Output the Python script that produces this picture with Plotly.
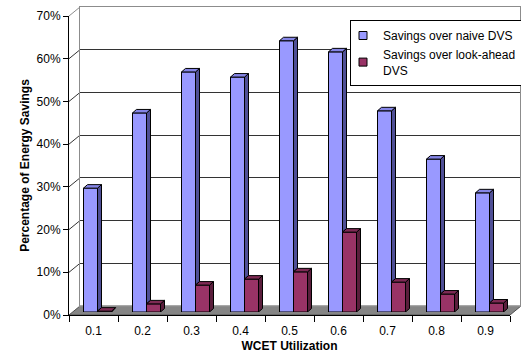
import plotly.graph_objects as go

# WCET utilization categories and energy savings (%) for each comparison
utilization = ["0.1", "0.2", "0.3", "0.4", "0.5", "0.6", "0.7", "0.8", "0.9"]
savings_naive = [29.0, 46.6, 56.2, 55.0, 63.5, 60.9, 47.1, 35.8, 27.9]
savings_lookahead = [0.2, 1.9, 6.3, 7.7, 9.4, 18.7, 7.0, 4.2, 2.1]
series_names = ["Savings over naive DVS", "Savings over look-ahead<br>DVS"]
y_ticks = [0, 10, 20, 30, 40, 50, 60, 70]

W, H = 521, 354
FONT = "Liberation Sans, Arial, sans-serif"

# page-pixel boxes of the three overlapping layers: back wall, front axes, bar plane
FRONT = dict(x0=69, x1=510, ybot=315, ytop=16)
BACK = dict(x0=80, x1=520, ybot=306, ytop=7)
BARS = dict(x0=73, x1=514, ybot=312, ytop=13)
LABEL_ROW_Y = 322   # page y of the free axis that carries the category labels


def xdom(b):
    return [b["x0"] / W, b["x1"] / W]


def ydom(b):
    return [1 - b["ybot"] / H, 1 - b["ytop"] / H]


n = len(utilization)
xpos = list(range(1, n + 1))
px_per_unit = (BARS["x1"] - BARS["x0"]) / n
px_per_pct = (BARS["ybot"] - BARS["ytop"]) / 70.0
bar_w = 14 / px_per_unit          # width of one bar in category units
depth_x = 4 / px_per_unit         # bar depth (right shift)
depth_y = 3.5 / px_per_pct        # bar depth (upward shift)

BLUE_FRONT, BLUE_SIDE, BLUE_TOP = "#9999FF", "#4F4F96", "#8585E6"
RED_FRONT, RED_SIDE, RED_TOP = "#993366", "#5A1E3C", "#7E2A54"


def faces(lefts, values, clip=None):
    """Side and top faces of 3-D columns as None-separated polygons."""
    sx, sy, tx, ty = [], [], [], []
    for i, (l, v) in enumerate(zip(lefts, values)):
        r = l + bar_w
        if clip is None:
            lo, lo_back = 0.0, depth_y
        else:
            lo = min(clip[i], v)
            lo_back = lo + depth_y
        sx += [r, r + depth_x, r + depth_x, r, r, None]
        sy += [lo, lo_back, v + depth_y, v, lo, None]
        tx += [l, r, r + depth_x, l + depth_x, l, None]
        ty += [v, v, v + depth_y, v + depth_y, v, None]
    return sx, sy, tx, ty


blue_left = [x - bar_w for x in xpos]
red_left = list(xpos)

fig = go.Figure()

# back wall subplot carries an empty trace so its gridlines are drawn
fig.add_trace(go.Scatter(x=[None], y=[None], xaxis="x", yaxis="y",
                         showlegend=False, hoverinfo="skip"))
# the front-axis subplot and the label axis need traces so their axes are drawn
fig.add_trace(go.Scatter(x=[utilization[0]], y=[None], xaxis="x2", yaxis="y2",
                         showlegend=False, hoverinfo="skip"))
fig.add_trace(go.Scatter(x=[utilization[0]], y=[None], xaxis="x4", yaxis="y2",
                         showlegend=False, hoverinfo="skip"))

# front faces of the columns
fig.add_trace(go.Bar(x=xpos, y=savings_naive, width=bar_w, offset=-bar_w,
                     marker=dict(color=BLUE_FRONT, line=dict(color="black", width=1)),
                     xaxis="x3", yaxis="y3", showlegend=False, hoverinfo="skip"))
fig.add_trace(go.Bar(x=xpos, y=savings_lookahead, width=bar_w, offset=0,
                     marker=dict(color=RED_FRONT, line=dict(color="black", width=1)),
                     xaxis="x3", yaxis="y3", showlegend=False, hoverinfo="skip"))

# depth faces; the blue side face is cut where the red column sits in front of it
bsx, bsy, btx, bty = faces(blue_left, savings_naive, clip=savings_lookahead)
rsx, rsy, rtx, rty = faces(red_left, savings_lookahead)
for fx, fy, col in [(bsx, bsy, BLUE_SIDE), (btx, bty, BLUE_TOP),
                    (rsx, rsy, RED_SIDE), (rtx, rty, RED_TOP)]:
    fig.add_trace(go.Scatter(x=fx, y=fy, mode="lines", fill="toself", fillcolor=col,
                             line=dict(color="black", width=1), xaxis="x3", yaxis="y3",
                             showlegend=False, hoverinfo="skip"))

# legend entries
for name, col, grp in [(series_names[0], BLUE_FRONT, "a"), (series_names[1], RED_FRONT, "b")]:
    fig.add_trace(go.Scatter(x=[None], y=[None], mode="markers", name=name, legendgroup=grp,
                             marker=dict(symbol="square", size=8, color=col,
                                         line=dict(color="black", width=1)),
                             xaxis="x3", yaxis="y3"))

# floor and side-wall gridlines in front-axis domain units
ddx = (BACK["x0"] - FRONT["x0"]) / (FRONT["x1"] - FRONT["x0"])
ddy = (FRONT["ybot"] - BACK["ybot"]) / (FRONT["ybot"] - FRONT["ytop"])
shapes = [dict(type="path", xref="x2 domain", yref="y2 domain", layer="below",
               path=f"M0,0 L1,0 L{1 + ddx},{ddy} L{ddx},{ddy} Z",
               fillcolor="#858585", line=dict(color="#505050", width=1))]
for v in y_ticks[1:]:
    f = v / 70.0
    shapes.append(dict(type="line", xref="x2 domain", yref="y2 domain", layer="below",
                       x0=0, y0=f, x1=ddx, y1=f + ddy,
                       line=dict(color="#333333" if v < 70 else "#8c8c8c", width=1)))

hidden = dict(showticklabels=False, ticks="", showgrid=False, zeroline=False, showline=False)
category_axis = dict(type="category", categoryarray=utilization, categoryorder="array",
                     range=[-0.5, n - 0.5], showgrid=False, zeroline=False)

fig.update_layout(
    width=W, height=H,
    margin=dict(l=0, r=0, t=0, b=0, autoexpand=False),
    paper_bgcolor="white", plot_bgcolor="rgba(0,0,0,0)",
    font=dict(family=FONT, size=12, color="black"),
    barmode="overlay",
    shapes=shapes,
    # back wall
    xaxis=dict(domain=xdom(BACK), range=[0, 1], anchor="y", showticklabels=False, ticks="",
               showgrid=False, zeroline=False, showline=True, mirror=True,
               linecolor="#8c8c8c", linewidth=1),
    yaxis=dict(domain=ydom(BACK), range=[0, 70], anchor="x", tickvals=y_ticks,
               showticklabels=False, ticks="", showgrid=True, gridcolor="#333333",
               gridwidth=1, zeroline=False, showline=True, mirror=True,
               linecolor="#8c8c8c", linewidth=1),
    # front floor edge with tick marks between categories
    xaxis2=dict(domain=xdom(FRONT), anchor="y2", tickson="boundaries", tickvals=utilization,
                ticks="outside", ticklen=6, tickcolor="black", showticklabels=False,
                showline=True, linecolor="black", linewidth=1, **category_axis),
    # category labels and axis title, on a free axis just below the floor edge
    xaxis4=dict(domain=xdom(FRONT), anchor="free", position=1 - LABEL_ROW_Y / H,
                overlaying="x2", tickvals=utilization, ticks="", showline=False,
                tickfont=dict(size=12),
                title=dict(text="<b>WCET Utilization</b>", font=dict(size=12), standoff=4),
                **category_axis),
    yaxis2=dict(domain=ydom(FRONT), anchor="x2", range=[0, 70], tickvals=y_ticks,
                ticktext=[f"{v}%" for v in y_ticks], ticks="outside", ticklen=5,
                tickcolor="black", showline=True, linecolor="black", linewidth=1,
                showgrid=False, zeroline=False, tickfont=dict(size=12),
                title=dict(text="<b>Percentage of Energy Savings</b>", font=dict(size=12),
                           standoff=4)),
    # bar plane
    xaxis3=dict(domain=xdom(BARS), anchor="y3", range=[0.5, n + 0.5], **hidden),
    yaxis3=dict(domain=ydom(BARS), anchor="x3", range=[0, 70], **hidden),
    legend=dict(x=350 / W, y=1 - 20 / H, xanchor="left", yanchor="top",
                bgcolor="white", bordercolor="black", borderwidth=1,
                font=dict(family=FONT, size=12), indentation=-8,
                tracegroupgap=0, itemsizing="trace"),
)

fig.write_html("out.html")
